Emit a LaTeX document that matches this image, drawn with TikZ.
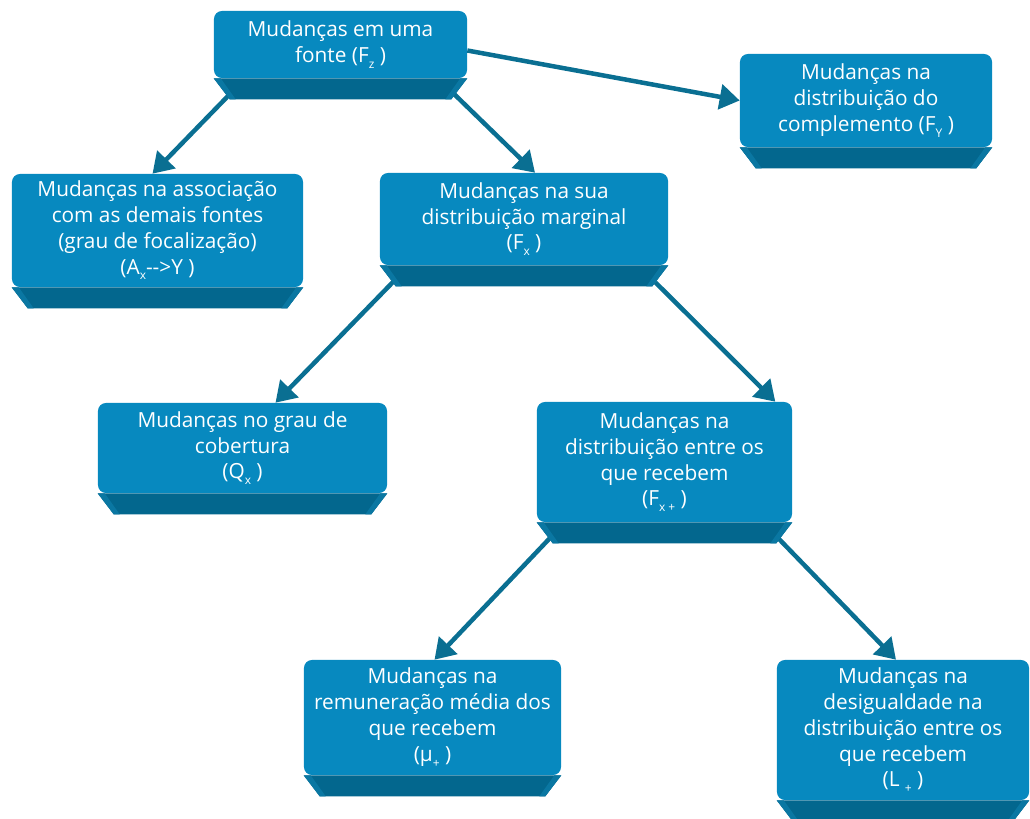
\documentclass[tikz,border=0pt]{standalone}
\usepackage{fontspec}
\setmainfont{Open Sans}
\usetikzlibrary{arrows.meta}
\definecolor{facecol}{HTML}{0789BF}
\definecolor{bandcol}{HTML}{03678E}
\definecolor{sidecol}{HTML}{0A77A2}
\definecolor{arrowcol}{HTML}{0A6F92}
\newcommand{\lowsub}[1]{\raisebox{-0.5ex}{\fontsize{8.5}{8.5}\selectfont #1}}
\tikzstyle{chg}      = [rectangle, rounded corners=0.2cm, fill=facecol, text=white, align=center,
                        inner sep=0pt, font=\fontsize{14.8}{18.4}\selectfont]
\tikzstyle{arrow}    = [line width=3.2pt, draw=arrowcol, -{Triangle[length=0.5cm,width=0.62cm]}]
\tikzstyle{band}     = [fill=bandcol]
\tikzstyle{bandside} = [fill=sidecol]

\begin{document}
\begin{tikzpicture}[x=0.025cm, y=-0.025cm]
  \useasboundingbox (0,0) rectangle (1030,819);
  % faces
  \node (fz)  [chg, minimum width=6.325cm, minimum height=1.675cm] at (340.5,44.5)
    {Mudanças em uma\\fonte (F\lowsub{z} )};
  \node (fy)  [chg, minimum width=6.3cm, minimum height=2.325cm] at (866,100.5)
    {Mudanças na\\distribuição do\\complemento (F\lowsub{Y} )};
  \node (fa)  [chg, minimum width=7.275cm, minimum height=2.825cm] at (157.5,230.5)
    {Mudanças na associação\\com as demais fontes\\(grau de focalização)\\(A\lowsub{x}-{}-{}>Y )};
  \node (fx)  [chg, minimum width=7.2cm, minimum height=2.3cm] at (524,219)
    {Mudanças na sua\\distribuição marginal\\(F\lowsub{x} )};
  \node (qx)  [chg, minimum width=7.225cm, minimum height=2.25cm] at (242.5,448)
    {Mudanças no grau de\\cobertura\\(Q\lowsub{x} )};
  \node (fxp) [chg, minimum width=6.375cm, minimum height=3cm] at (664.5,462)
    {Mudanças na\\distribuição entre os\\que recebem\\(F\lowsub{x +} )};
  \node (mu)  [chg, minimum width=6.425cm, minimum height=2.875cm] at (432.5,717.5)
    {Mudanças na\\remuneração média dos\\que recebem\\(μ\lowsub{+} )};
  \node (lp)  [chg, minimum width=6.3cm, minimum height=3.5cm] at (903,730)
    {Mudanças na\\desigualdade na\\distribuição entre os\\que recebem\\(L \lowsub{+} )};
  % connectors
  \draw [arrow] ([shift={(16,16)}]fz.south west) -- ([shift={(-5,0)}]fa.north);
  \draw [arrow] ([shift={(-14,15)}]fz.south east) -- ([shift={(11,0)}]fx.north);
  \draw [arrow] ([shift={(0,6)}]fz.east) -- (fy.west);
  \draw [arrow] ([shift={(14,16)}]fx.south west) -- ([shift={(33,0)}]qx.north);
  \draw [arrow] ([shift={(-13,17)}]fx.south east) -- ([shift={(-17,0)}]fxp.north east);
  \draw [arrow] ([shift={(13,16)}]fxp.south west) -- ([shift={(2,0)}]mu.north);
  \draw [arrow] ([shift={(-14,16)}]fxp.south east) -- ([shift={(-7,0)}]lp.north);
  % bevelled bases
  \foreach \n in {fz,fy,fa,fx,qx,fxp,mu,lp} {
    \fill [band] (\n.south west) -- (\n.south east) -- ([shift={(-16,21)}]\n.south east)
      -- ([shift={(16,21)}]\n.south west) -- cycle;
    \fill [bandside] (\n.south west) -- ([shift={(7,0)}]\n.south west)
      -- ([shift={(22,21)}]\n.south west) -- ([shift={(16,21)}]\n.south west) -- cycle;
    \fill [bandside] (\n.south east) -- ([shift={(-7,0)}]\n.south east)
      -- ([shift={(-22,21)}]\n.south east) -- ([shift={(-16,21)}]\n.south east) -- cycle;
  }
\end{tikzpicture}
\end{document}
